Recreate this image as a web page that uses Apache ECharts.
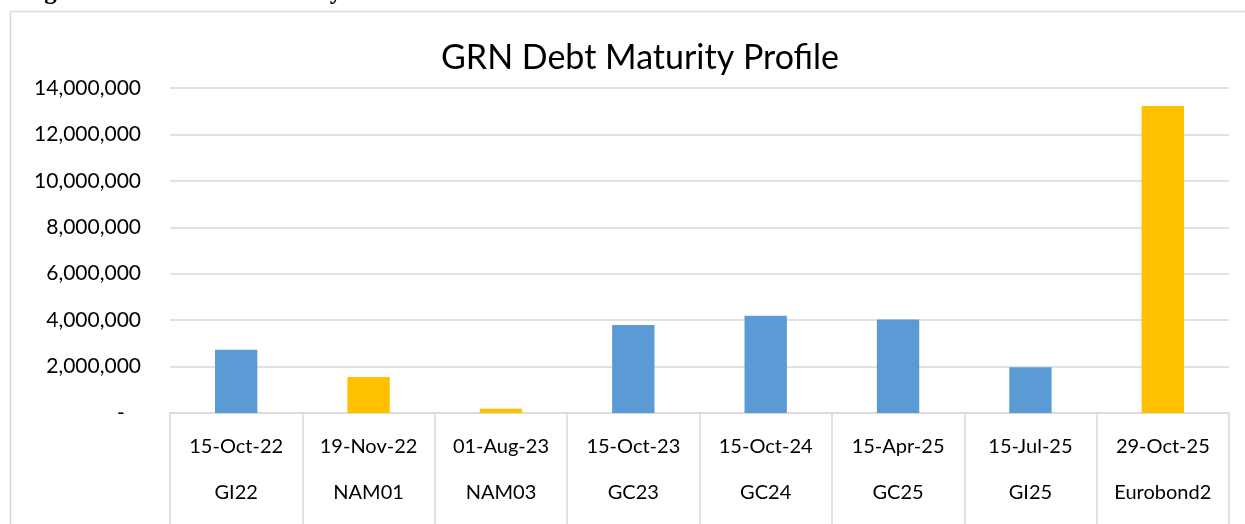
<!doctype html>
<html lang="en">
<head>
    <meta charset="utf-8">
    <title>GRN Debt Maturity Profile</title>
    <script src="https://cdn.jsdelivr.net/npm/echarts@6/dist/echarts.min.js"></script>
    <style>
        html, body { margin: 0; padding: 0; background: #fff; }
        #chart { width: 1245px; height: 524px; }
    </style>
</head>
<body>
    <div id="chart"></div>

    <script type="text/javascript">
        // maturity dates (inner level) and instruments (outer level)
        var dates = ['15-Oct-22', '19-Nov-22', '01-Aug-23', '15-Oct-23', '15-Oct-24', '15-Apr-25', '15-Jul-25', '29-Oct-25'];
        var bonds = ['GI22', 'NAM01', 'NAM03', 'GC23', 'GC24', 'GC25', 'GI25', 'Eurobond2'];
        // amounts
        var amounts = [2720000, 1550000, 180000, 3790000, 4190000, 4030000, 1970000, 13230000];
        // true = foreign / yellow bar
        var foreign = [false, true, true, false, false, false, false, true];

        var blue = '#5B9BD5';
        var gold = '#FFC000';
        var gridColor = '#D9D9D9';
        var font = 'Lato, "Open Sans", sans-serif';

        var myChart = echarts.init(document.getElementById('chart'), null, { renderer: 'canvas' });

        var option = {
            animation: false,
            backgroundColor: '#fff',
            title: {
                text: 'GRN Debt Maturity Profile',
                left: 436,
                top: 36,
                textStyle: {
                    color: '#000',
                    fontFamily: font,
                    fontWeight: 'normal',
                    fontSize: 34
                }
            },
            graphic: [
                {   // outer frame of the chart box
                    type: 'rect',
                    shape: { x: 10.5, y: 11.5, width: 1300, height: 600 },
                    style: { fill: 'none', stroke: gridColor, lineWidth: 1.5 },
                    silent: true
                },
                {   // caption above the box, mostly cropped off
                    type: 'text',
                    x: 22,
                    y: 5,
                    style: {
                        text: 'Figure 4: GRN Debt Maturity Profile',
                        font: 'bold 25px "Liberation Serif", serif',
                        fill: '#000',
                        verticalAlign: 'bottom'
                    },
                    silent: true
                }
            ],
            grid: {
                left: 170,
                right: 16,
                top: 88,
                bottom: 111
            },
            xAxis: {
                type: 'category',
                data: dates.map(function (d, i) { return d + '\n' + bonds[i]; }),
                axisLine: { lineStyle: { color: gridColor, width: 1.5 } },
                axisTick: {
                    show: true,
                    interval: 0,
                    length: 130,
                    lineStyle: { color: gridColor, width: 1.5 }
                },
                axisLabel: {
                    interval: 0,
                    margin: 11,
                    color: '#000',
                    fontFamily: font,
                    fontSize: 20,
                    lineHeight: 46
                }
            },
            yAxis: {
                type: 'value',
                min: 0,
                max: 14000000,
                interval: 2000000,
                axisLine: { show: false },
                axisTick: { show: false },
                splitLine: { lineStyle: { color: gridColor, width: 1.5 } },
                axisLabel: {
                    margin: 29,
                    color: '#000',
                    fontFamily: font,
                    fontSize: 21,
                    formatter: function (v) {
                        if (v === 0) return '-   ';
                        return v.toLocaleString('en-US');
                    }
                }
            },
            series: [
                {
                    type: 'bar',
                    barWidth: '32%',
                    data: amounts.map(function (v, i) {
                        return { value: v, itemStyle: { color: foreign[i] ? gold : blue } };
                    })
                }
            ]
        };
        myChart.setOption(option);
    </script>
</body>
</html>
